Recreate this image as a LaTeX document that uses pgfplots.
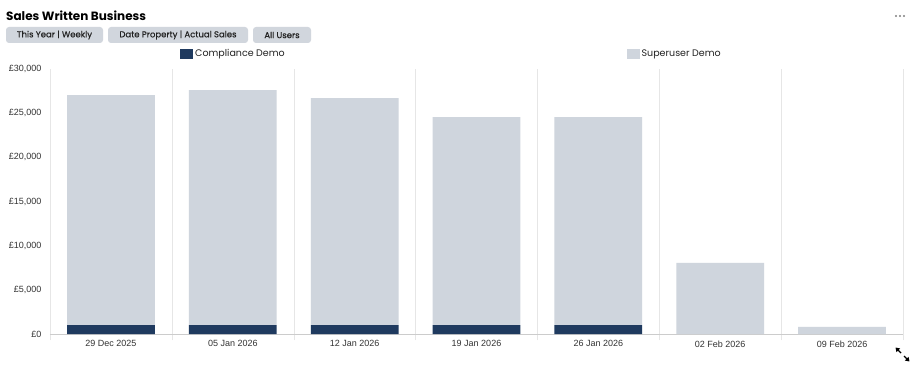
\documentclass[border=0pt]{standalone}
\usepackage{fontspec}
\setmainfont{Poppins}
\newfontfamily\popmed[FakeBold=0.5]{Poppins}
\newfontfamily\arial{Liberation Sans}
\usepackage{pgfplots}
\pgfplotsset{compat=1.18}
\usetikzlibrary{arrows.meta}
\definecolor{navy}{HTML}{1F3A5F}
\definecolor{silver}{HTML}{CFD5DD}
\definecolor{btn}{HTML}{D1D6DD}
\definecolor{gridc}{HTML}{E6E6E6}
\definecolor{axc}{HTML}{CCCCCC}
\definecolor{tickc}{HTML}{333333}
\definecolor{txt}{HTML}{222222}
\begin{document}
\begin{tikzpicture}[x=1pt,y=1pt]
\path[fill=white] (0,0) rectangle (913,365);
\node[anchor=west,font=\bfseries\fontsize{12}{14}\selectfont,inner sep=0,text=black] at (6,349) {Sales Written Business};
\tikzset{btnst/.style={fill=btn,rounded corners=3pt,inner sep=0,font=\popmed\fontsize{8.5}{10}\selectfont,text=txt}}
\node[btnst,minimum width=97pt,minimum height=16pt] at (54.5,330) {This Year | Weekly};
\node[btnst,minimum width=140pt,minimum height=16pt] at (178,330) {Date Property | Actual Sales};
\node[btnst,minimum width=58pt,minimum height=16pt] at (282,330) {All Users};
\foreach \xx in {896,900,904} \fill[gray] (\xx,349) circle (1.1);
\draw[line width=1.4pt,-{Triangle[length=4pt,width=5pt]}] (901,12) -- (895.5,17.5);
\draw[line width=1.4pt,-{Triangle[length=4pt,width=5pt]}] (904,9) -- (909.5,3.5);
\begin{axis}[
  at={(50pt,31pt)}, anchor=south west, scale only axis,
  width=853pt, height=265pt,
  ybar stacked, bar width=0.72,
  xmin=-0.5, xmax=6.5, ymin=0, ymax=30000,
  enlargelimits=false,
  scaled y ticks=false,
  axis lines*=left,
  x axis line style={draw=axc,-},
  y axis line style={draw=gridc,-},
  xtick={0,...,6},
  xticklabels={29 Dec 2025,05 Jan 2026,12 Jan 2026,19 Jan 2026,26 Jan 2026,02 Feb 2026,09 Feb 2026},
  major tick length=0pt,
  minor xtick={-0.5,0.5,...,6.5},
  xminorgrids, minor grid style={draw=gridc},
  minor tick length=6pt, tick align=outside,
  minor x tick style={draw=gridc},
  ytick={0,5000,...,30000},
  yticklabels={£0,{£5,000},{£10,000},{£15,000},{£20,000},{£25,000},{£30,000}},
  ticklabel style={font=\arial\fontsize{9}{10}\selectfont,text=tickc},
  yticklabel style={xshift=-5pt},
  xticklabel style={yshift=-3pt},
  legend style={at={(axis description cs:0.1489,1.0566)}, anchor=west, draw=none, fill=none,
    legend columns=2, font=\fontsize{9.5}{11}\selectfont, text=txt,
    /tikz/every even column/.style={column sep=340pt}},
]
\addplot[fill=navy, draw=none, legend image code/.code={\fill[navy] (0pt,-5pt) rectangle (13pt,5pt);}]
  coordinates {(0,1000) (1,1000) (2,1000) (3,1000) (4,1000) (5,0) (6,0)};
\addplot[fill=silver, draw=none, legend image code/.code={\fill[silver] (0pt,-5pt) rectangle (13pt,5pt);}]
  coordinates {(0,26050) (1,26600) (2,25700) (3,23550) (4,23550) (5,8050) (6,800)};
\legend{Compliance Demo, Superuser Demo}
\end{axis}
\end{tikzpicture}
\end{document}
